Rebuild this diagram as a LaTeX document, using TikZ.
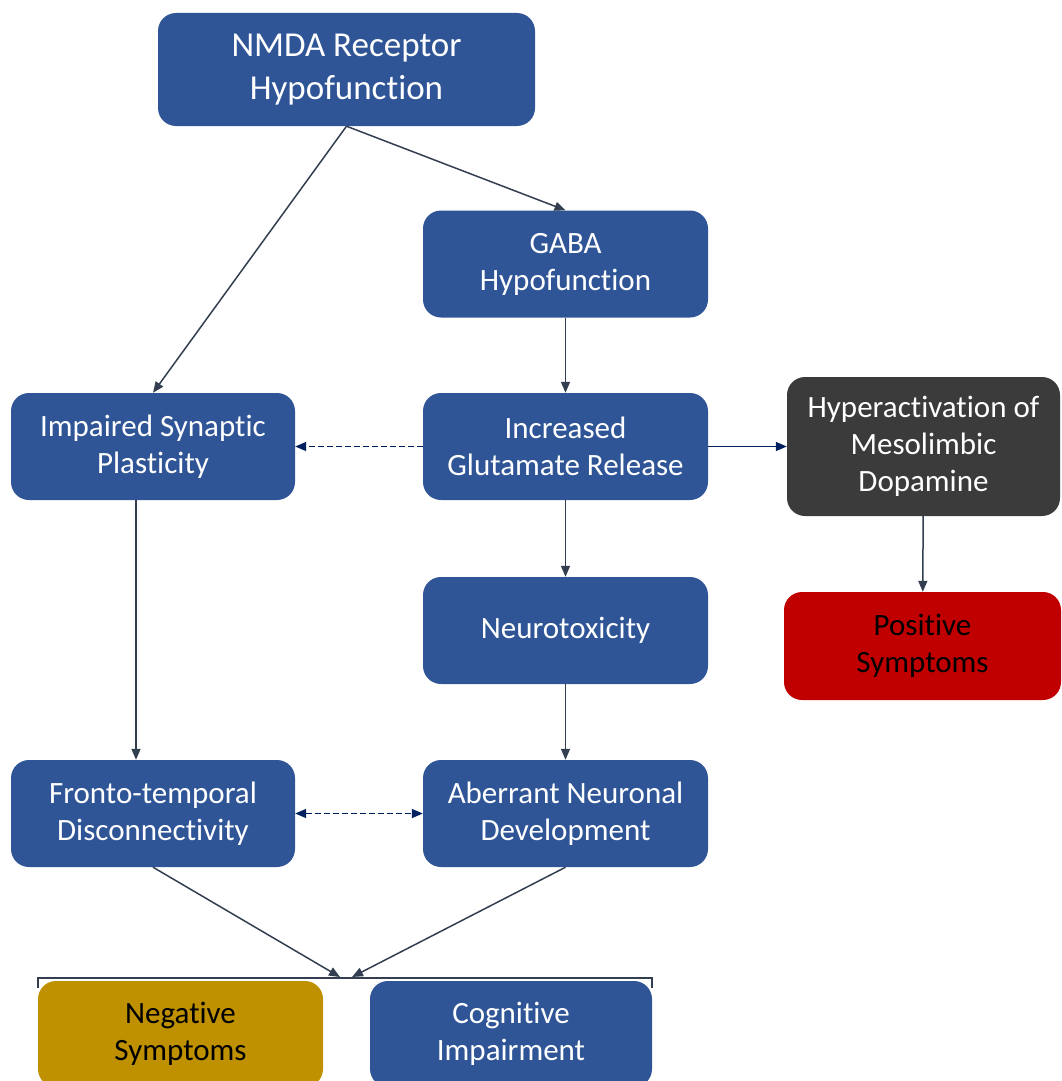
\documentclass[tikz,border=0pt]{standalone}
\usepackage{fontspec}
\setmainfont{Carlito}[Ligatures=NoCommon]
\usetikzlibrary{arrows.meta}
\definecolor{boxblue}{HTML}{2F5597}
\definecolor{boxgray}{HTML}{3B3B3B}
\definecolor{boxred}{HTML}{C00000}
\definecolor{boxgold}{HTML}{BF9000}
\definecolor{linegray}{HTML}{333F50}
\definecolor{linenavy}{HTML}{002060}
\begin{document}
\begin{tikzpicture}[x=1pt,y=-1pt,
  box/.style={rectangle,rounded corners=18pt,fill=boxblue,text=white,align=center,
    minimum width=285pt,minimum height=107pt,inner sep=0pt,
    font=\fontsize{31}{37}\selectfont},
  link/.style={draw=linegray,line width=1.5pt,-{Triangle[length=11pt,width=9pt]}},
  dlink/.style={draw=linenavy,line width=1.5pt,dashed,dash pattern=on 6pt off 3pt}]
\useasboundingbox (0,0) rectangle (1061,1081);
\clip (0,0) rectangle (1061,1081);
\node[box,minimum width=377pt,minimum height=113pt,font=\fontsize{35}{43}\selectfont] (nmda) at (346.5,69.5) {NMDA Receptor\\Hypofunction};
\node[box] (gaba) at (565.5,264) {GABA\\Hypofunction};
\node[box,minimum width=284pt] (plast) at (153,446.5) {Impaired Synaptic\\Plasticity};
\node[box] (glut) at (565.5,446.5) {Increased\\Glutamate Release};
\node[box,fill=boxgray,minimum width=273pt,minimum height=139pt] (dopa) at (923.5,446.5) {Hyperactivation of\\Mesolimbic\\Dopamine};
\node[box,fill=boxred,text=black,minimum width=277pt,minimum height=108pt] (pos) at (922.5,646) {Positive\\Symptoms};
\node[box] (neuro) at (565.5,630.5) {Neurotoxicity};
\node[box,minimum width=284pt] (fronto) at (153,813.5) {Fronto-temporal\\Disconnectivity};
\node[box] (aber) at (565.5,813.5) {Aberrant Neuronal\\Development};
\node[box,fill=boxgold,text=black,minimum height=106pt] (neg) at (180.5,1034) {Negative\\Symptoms};
\node[box,minimum width=282pt,minimum height=106pt] (cogn) at (511,1034) {Cognitive\\Impairment};
% bracket over the two outcome boxes
\draw[linegray,line width=1.5pt] (38,988) -- (38,978) -- (652,978) -- (652,988);
\coordinate (tipA) at (340,977);
\coordinate (tipB) at (352,977);
\draw[link] (nmda.south) -- (plast.north);
\draw[link] (nmda.south) -- (gaba.north);
\draw[link] (gaba) -- (glut);
\draw[dlink,-{Triangle[length=11pt,width=9pt]}] (glut) -- (plast);
\draw[link,draw=linenavy] (glut) -- (dopa);
\draw[link] (glut) -- (neuro);
\draw[link] (neuro) -- (aber);
\draw[link] ([xshift=-17pt]plast.south) -- ([xshift=-17pt]fronto.north);
\draw[dlink,{Triangle[length=11pt,width=9pt]}-{Triangle[length=11pt,width=9pt]}] (fronto) -- (aber);
\draw[link] (dopa) -- (pos);
\draw[link] (fronto.south) -- (tipA);
\draw[link] (aber.south) -- (tipB);
\end{tikzpicture}
\end{document}
